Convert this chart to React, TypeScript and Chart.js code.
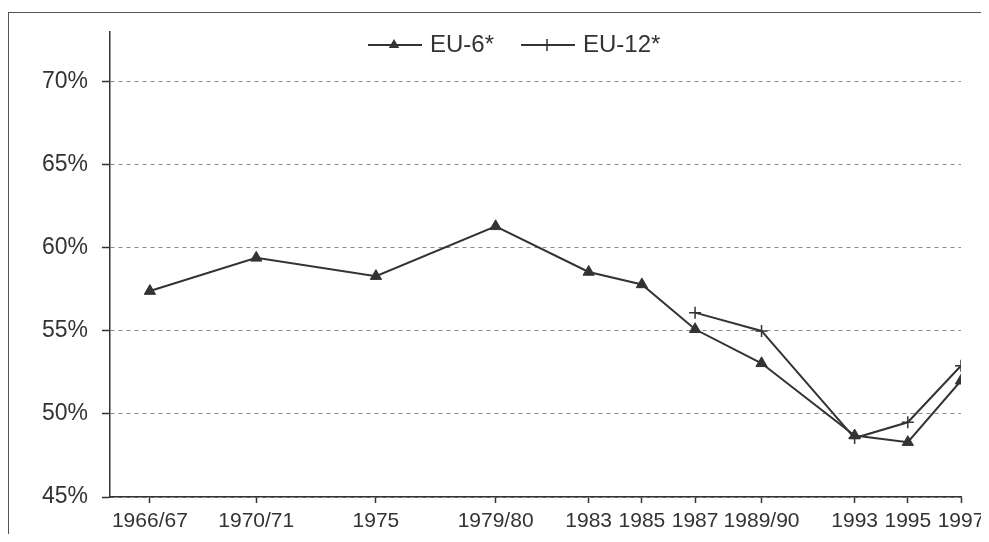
import React, { useEffect, useRef, useState } from 'react';
import { Chart, registerables } from 'chart.js';

Chart.register(...registerables);

// Data
const yearPositions = [1966.5, 1970.5, 1975, 1979.5, 1983, 1985, 1987, 1989.5, 1993, 1995, 1997];
const yearLabels = ['1966/67', '1970/71', '1975', '1979/80', '1983', '1985', '1987', '1989/90', '1993', '1995', '1997'];
const eu6Values = [57.4, 59.4, 58.3, 61.3, 58.55, 57.8, 55.1, 53.05, 48.7, 48.3, 52.0];
const eu12Years = [1987, 1989.5, 1993, 1995, 1997];
const eu12Values = [56.1, 55.0, 48.55, 49.5, 52.9];
const yTicks = [45, 50, 55, 60, 65, 70];
const seriesLabels = ['EU-6*', 'EU-12*'];

const FONT_FAMILY = '"Liberation Sans", Arial, Helvetica, sans-serif';
const INK = '#333333';

function drawMarker(ctx: CanvasRenderingContext2D, style: string, x: number, y: number, r: number) {
  ctx.save();
  ctx.fillStyle = INK;
  ctx.strokeStyle = INK;
  if (style === 'triangle') {
    ctx.beginPath();
    for (let k = 0; k < 3; k++) {
      const a = (k * 2 * Math.PI) / 3;
      const px = x + Math.sin(a) * r;
      const py = y - Math.cos(a) * r;
      if (k === 0) ctx.moveTo(px, py);
      else ctx.lineTo(px, py);
    }
    ctx.closePath();
    ctx.fill();
  } else {
    ctx.lineWidth = 1.5;
    ctx.beginPath();
    ctx.moveTo(x - r, y);
    ctx.lineTo(x + r, y);
    ctx.moveTo(x, y - r);
    ctx.lineTo(x, y + r);
    ctx.stroke();
  }
  ctx.restore();
}

export default function App() {
  const ref = useRef<HTMLCanvasElement>(null);
  const [err, setErr] = useState('');

  useEffect(() => {
    const canvas = ref.current;
    if (!canvas) return;
    let chart: any = null;
    try {
      const lineLegend = {
        id: 'lineLegend',
        afterDraw(c: any) {
          const ctx: CanvasRenderingContext2D = c.ctx;
          ctx.save();
          ctx.font = `24px ${FONT_FAMILY}`;
          ctx.textBaseline = 'middle';
          ctx.fillStyle = INK;
          let x = 360;
          const y = 37;
          c.data.datasets.forEach((ds: any) => {
            ctx.strokeStyle = INK;
            ctx.lineWidth = 2;
            ctx.beginPath();
            ctx.moveTo(x, y);
            ctx.lineTo(x + 54, y);
            ctx.stroke();
            drawMarker(ctx, ds.pointStyle, x + 26, y, 6);
            x += 62;
            ctx.fillStyle = INK;
            ctx.fillText(ds.label, x, y);
            x += ctx.measureText(ds.label).width + 27;
          });
          ctx.restore();
        },
      };

      chart = new Chart(canvas, {
        type: 'line',
        data: {
          datasets: [
            {
              label: seriesLabels[0],
              data: yearPositions.map((x, i) => ({ x, y: eu6Values[i] })),
              borderColor: INK,
              borderWidth: 2,
              pointStyle: 'triangle',
              pointRadius: 6.5,
              pointBackgroundColor: INK,
              pointBorderColor: INK,
              pointBorderWidth: 1,
            },
            {
              label: seriesLabels[1],
              data: eu12Years.map((x, i) => ({ x, y: eu12Values[i] })),
              borderColor: INK,
              borderWidth: 2,
              pointStyle: 'cross',
              pointRadius: 6,
              pointBackgroundColor: INK,
              pointBorderColor: INK,
              pointBorderWidth: 1.5,
            },
          ],
        },
        options: {
          animation: false,
          responsive: false,
          layout: { padding: { top: 24, right: 28, bottom: 0, left: 0 } },
          plugins: {
            legend: { display: false },
            tooltip: { enabled: false },
          },
          scales: {
            x: {
              type: 'linear',
              min: 1965,
              max: 1997,
              afterBuildTicks: (s: any) => {
                s.ticks = yearPositions.map((v) => ({ value: v }));
              },
              afterFit: (s: any) => {
                s.height = 45;
                s.paddingLeft = 0;
                s.paddingRight = 0;
              },
              ticks: {
                autoSkip: false,
                maxRotation: 0,
                minRotation: 0,
                padding: 6,
                color: INK,
                font: { family: FONT_FAMILY, size: 21 },
                callback: (_v: any, i: number) => yearLabels[i],
              },
              grid: {
                drawOnChartArea: false,
                drawTicks: true,
                tickLength: 6,
                tickColor: INK,
                tickWidth: 1.5,
              },
              border: { display: true, color: INK, width: 1.5 },
            },
            y: {
              type: 'linear',
              min: 45,
              max: 73,
              afterBuildTicks: (s: any) => {
                s.ticks = yTicks.map((v) => ({ value: v }));
              },
              afterFit: (s: any) => {
                s.width = 102;
                s.paddingTop = 0;
                s.paddingBottom = 0;
              },
              ticks: {
                padding: 14,
                color: INK,
                font: { family: FONT_FAMILY, size: 23 },
                callback: (v: any) => `${v}%`,
              },
              grid: {
                color: '#8a8a8a',
                lineWidth: 1,
                drawTicks: true,
                tickLength: 8,
                tickColor: INK,
                tickWidth: 1.5,
              },
              border: { display: true, color: INK, width: 1.5, dash: [4, 4] },
            },
          },
        },
        plugins: [lineLegend],
      } as any);
    } catch (e: any) {
      setErr(String(e && e.stack ? e.stack : e));
    }
    return () => {
      if (chart) chart.destroy();
    };
  }, []);

  return (
    <div style={{ position: 'relative', width: 981, height: 526 }}>
      <div
        style={{
          position: 'absolute',
          left: 0,
          top: 4,
          width: 975,
          height: 530,
          borderTop: '1px solid #555',
          borderLeft: '1px solid #555',
          borderRight: '1px solid #999',
          borderBottom: 'none',
        }}
      />
      <canvas
        ref={ref}
        width={981}
        height={534}
        style={{ position: 'absolute', left: 0, top: 0, display: 'block' }}
      />
      {err ? (
        <pre style={{ position: 'absolute', left: 10, top: 10, fontSize: 10, color: 'red', whiteSpace: 'pre-wrap', width: 900 }}>{err}</pre>
      ) : null}
    </div>
  );
}
